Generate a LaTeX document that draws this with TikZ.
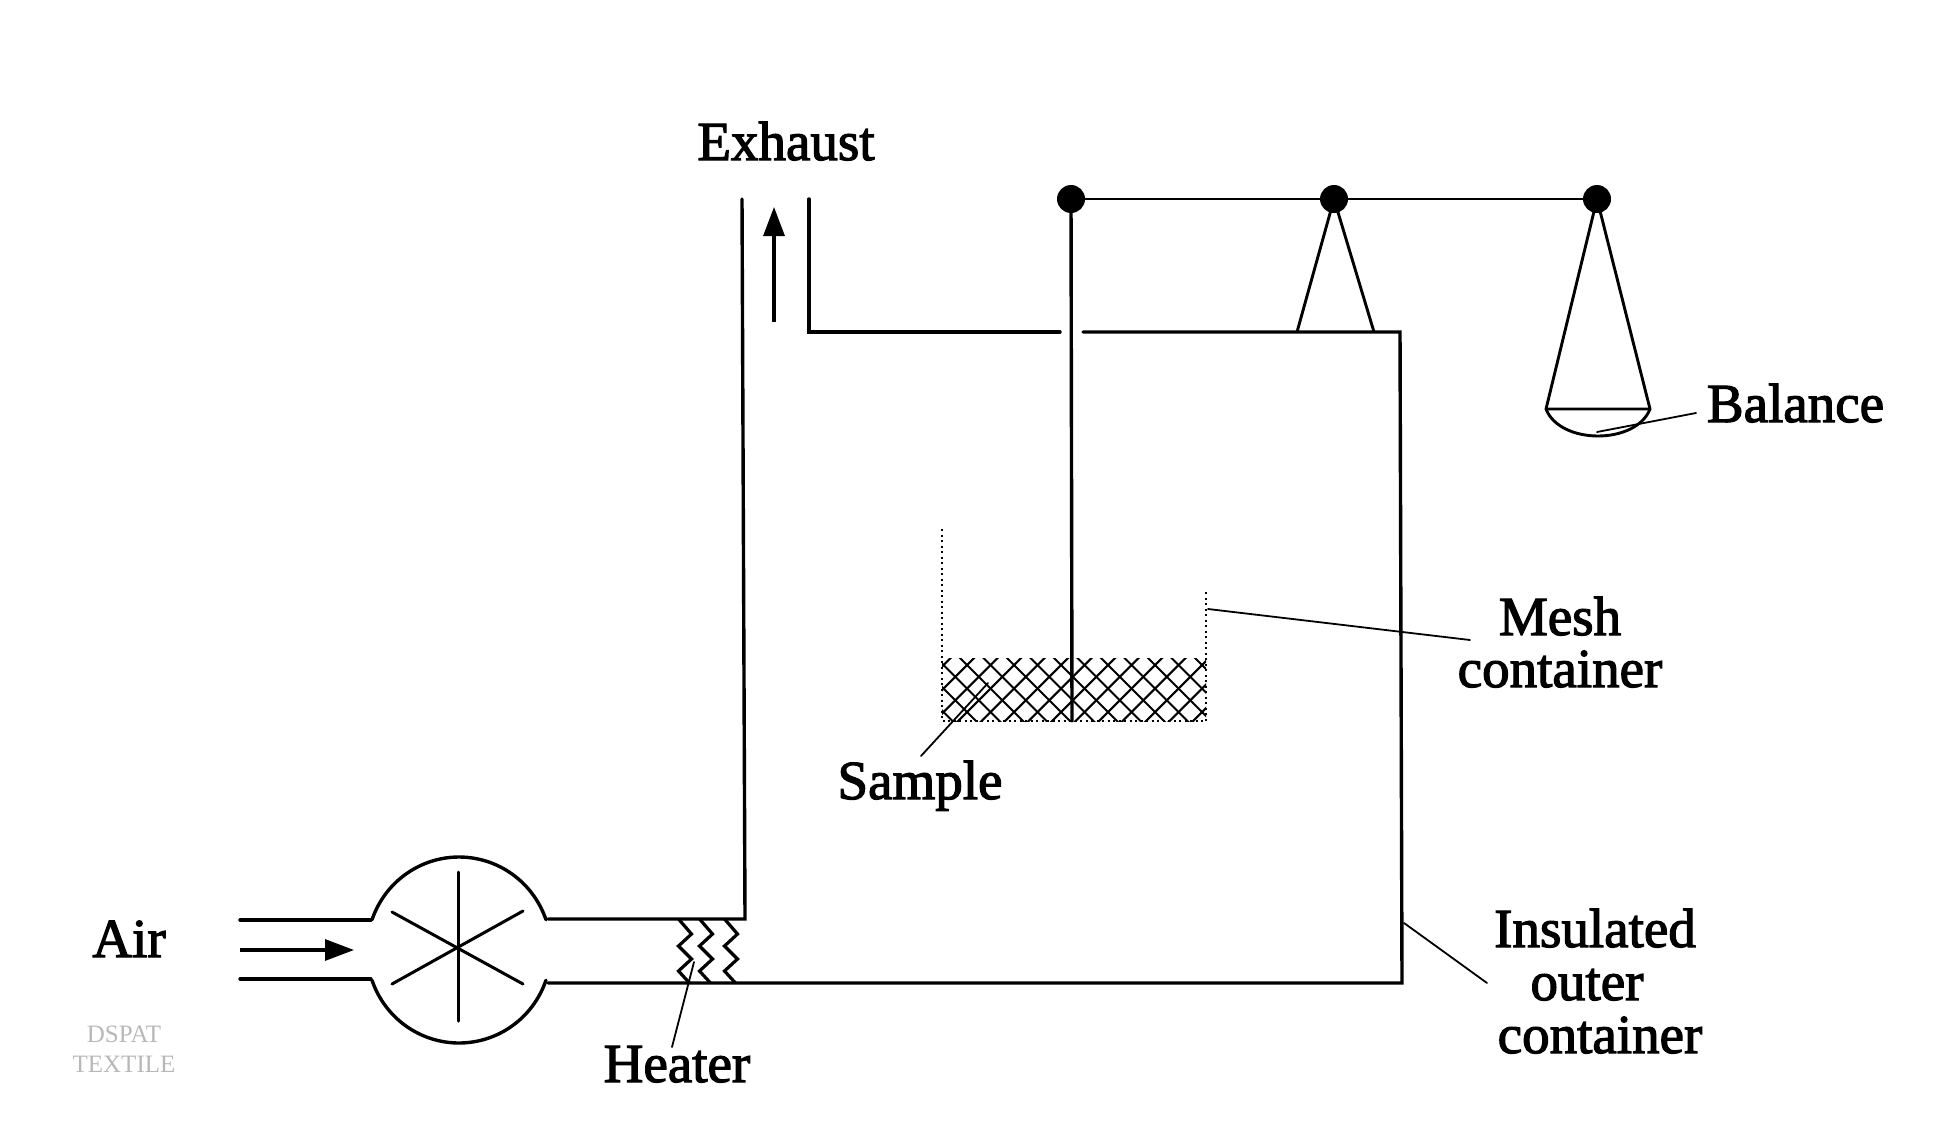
\documentclass[tikz,border=0pt]{standalone}
\usepackage{fontspec}
\setmainfont[FakeBold=2.2]{Liberation Serif}
\newfontfamily\markfont{Liberation Serif}
\usetikzlibrary{arrows.meta}
\tikzset{
  wall/.style={line width=3.4pt,line cap=round,line join=miter},
  beam/.style={line width=2.6pt},
  thinline/.style={line width=1.8pt,line cap=round},
  blade/.style={line width=3pt,line cap=round},
  hang/.style={line width=2.9pt,line join=round},
  zig/.style={line width=3.2pt,line join=miter},
  flow/.style={line width=3.2pt,-{Triangle[length=29pt,width=21pt]}},
  pivot/.style={circle,fill=black,inner sep=0pt,minimum size=28pt},
  meshline/.style={line width=2.2pt,dash pattern=on 2pt off 3.5pt},
  hatchline/.style={line width=2.1pt},
  lbl/.style={anchor=base,inner sep=0pt,font=\fontsize{55}{60}\selectfont},
  wmark/.style={anchor=base,inner sep=0pt,text=black!28,font=\markfont\fontsize{25}{28}\selectfont}
}
\begin{document}
\begin{tikzpicture}[x=1pt,y=-1pt]
\useasboundingbox (0,0) rectangle (1946,1124);
% labels
\node[lbl] (exhaust) at (786,160) {Exhaust};
\node[lbl] (balance) at (1795.5,422) {Balance};
\node[lbl] (mesh1) at (1560,635) {Mesh};
\node[lbl] (mesh2) at (1560,687) {container};
\node[lbl] (sample) at (920,799) {Sample};
\node[lbl] (air) at (129,957) {Air};
\node[lbl] (heater) at (677,1082) {Heater};
\node[lbl] (ins1) at (1595,947) {Insulated};
\node[lbl] (ins2) at (1587,1000) {outer};
\node[lbl] (ins3) at (1600,1053) {container};
\node[wmark] (wm1) at (124,1042) {DSPAT};
\node[wmark] (wm2) at (124,1072) {TEXTILE};
% named points
\coordinate (inTopA) at (240,920);
\coordinate (inTopB) at (371,920);
\coordinate (inBotA) at (240,979);
\coordinate (inBotB) at (371,979);
\coordinate (outTopA) at (548,919);
\coordinate (outBotA) at (548,983);
\coordinate (corner) at (745,919);
\coordinate (exL) at (742,199);
\coordinate (exR) at (809,199);
\coordinate (exC) at (809,332);
\coordinate (gapL) at (1060,332);
\coordinate (gapR) at (1083,332);
\coordinate (trC) at (1400,332);
\coordinate (brC) at (1402,983);
\coordinate (rodEnd) at (1072,721);
% outer container
\draw[wall] (inTopA) -- (inTopB);
\draw[wall] (inBotA) -- (inBotB);
\draw[wall] (outTopA) -- (corner) -- (exL);
\draw[wall] (exR) -- (exC) -- (gapL);
\draw[wall] (gapR) -- (trC) -- (brC) -- (outBotA);
% fan
\draw[wall] plot[smooth,domain=199:341,samples=40] ({459+92*cos(\x)},{950+93*sin(\x)});
\draw[wall] plot[smooth,domain=19:161,samples=40] ({459+92*cos(\x)},{950+93*sin(\x)});
\draw[blade] (458,872) -- (458,1021);
\draw[blade] (392,912) -- (523,984);
\draw[blade] (392,984) -- (523,911);
% flow arrows
\coordinate (airA) at (240,950);
\coordinate (airB) at (354,950);
\coordinate (exA) at (774,322);
\coordinate (exB) at (774,207);
\draw[flow] (airA) -- (airB);
\draw[flow] (exA) -- (exB);
% heater
\foreach \d in {0,21,46}{
  \draw[zig,xshift=\d pt] (678.5,919) -- (691.5,934) -- (678.5,946) -- (691.5,959) -- (678.5,971) -- (689.5,983);
}
% balance
\node[pivot] (p1) at (1071,199) {};
\node[pivot] (p2) at (1334,199) {};
\node[pivot] (p3) at (1597,199) {};
\draw[beam] (p1) -- (p3);
\draw[wall] (p1) -- (rodEnd);
\coordinate (footL) at (1297,332);
\coordinate (footR) at (1374,332);
\draw[hang] (footL) -- (p2.center) -- (footR);
\coordinate (panL) at (1546,409);
\coordinate (panR) at (1650,409);
\draw[hang] (panL) -- (p3.center) -- (panR) -- cycle;
\draw[hang] (panL) .. controls (1560,445) and (1636,445) .. (panR);
% mesh container
\begin{scope}
\clip (942,658) rectangle (1206,721);
\foreach \k in {-5,...,16}{
  \draw[hatchline] ({967+23.5*\k-80},{665-80}) -- ({967+23.5*\k+80},{665+80});
  \draw[hatchline] ({967+23.5*\k-80},{665+80}) -- ({967+23.5*\k+80},{665-80});
}
\end{scope}
\coordinate (meL) at (942,529);
\coordinate (meBL) at (942,721);
\coordinate (meBR) at (1206,721);
\coordinate (meR) at (1206,589);
\draw[meshline] (meL) -- (meBL) -- (meBR) -- (meR);
% leaders
\coordinate (lBal) at (1597,432);
\coordinate (lBalT) at (1696,413);
\draw[thinline] (lBal) -- (lBalT);
\coordinate (lMesh) at (1208,609);
\coordinate (lMeshT) at (1470,640);
\draw[thinline] (lMesh) -- (lMeshT);
\coordinate (lSam) at (988,683);
\coordinate (lSamT) at (921,756);
\draw[thinline] (lSam) -- (lSamT);
\coordinate (lHeat) at (694,962);
\coordinate (lHeatT) at (672,1047);
\draw[thinline] (lHeat) -- (lHeatT);
\coordinate (lIns) at (1404,923);
\coordinate (lInsT) at (1487,983);
\draw[thinline] (lIns) -- (lInsT);
\end{tikzpicture}
\end{document}
